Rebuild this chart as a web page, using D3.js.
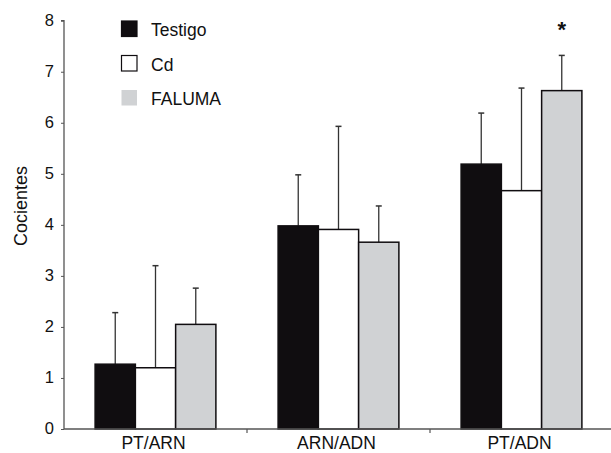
<!DOCTYPE html>
<html><head><meta charset="utf-8">
<script src="https://cdn.jsdelivr.net/npm/d3@7"></script>
<style>body{margin:0;background:#fff}svg{display:block;font-family:"Liberation Sans",Arial,sans-serif}</style>
</head><body>
<svg id="c" width="611" height="453"></svg>
<script>
const categories = ["PT/ARN", "ARN/ADN", "PT/ADN"];
const seriesNames = ["Testigo", "Cd", "FALUMA"];
const testigo = [1.27, 3.98, 5.19];
const cd = [1.20, 3.91, 4.67];
const faluma = [2.05, 3.66, 6.63];
const testigoErr = [2.28, 4.98, 6.19];
const cdErr = [3.20, 5.93, 6.68];
const falumaErr = [2.76, 4.37, 7.32];
const yTicks = [0, 1, 2, 3, 4, 5, 6, 7, 8];
const significance = ["", "", "*"];

(function () {
const values = [testigo, cd, faluma];
const errTops = [testigoErr, cdErr, falumaErr];
const fills = ["#100d10", "#ffffff", "#d0d2d4"];
const FONT = "Liberation Sans, Arial, sans-serif";

const svg = d3.select("#c");
const mLeft = 64, mRight = 611, mTop = 20.7, mBottom = 429;
const y = d3.scaleLinear().domain([0, 8]).range([mBottom, mTop]);
const x = d3.scaleBand().domain(categories).range([mLeft, mLeft + 3 * 183]).paddingInner(0.34).paddingOuter(0.17);
const xs = d3.scaleBand().domain(seriesNames).range([0, x.bandwidth()]);

seriesNames.forEach((s, si) => {
  const g = svg.append("g");
  categories.forEach((c, ci) => {
    const bx = x(c) + xs(s);
    const cx = bx + xs.bandwidth() / 2;
    const v = values[si][ci];
    const e = errTops[si][ci];
    g.append("line").attr("x1", cx).attr("x2", cx)
      .attr("y1", y(v)).attr("y2", y(e)).attr("stroke", "#333").attr("stroke-width", 1.3);
    g.append("line").attr("x1", cx - 3).attr("x2", cx + 3)
      .attr("y1", y(e)).attr("y2", y(e)).attr("stroke", "#333").attr("stroke-width", 1.5);
    g.append("rect").attr("x", bx).attr("y", y(v)).attr("width", xs.bandwidth()).attr("height", y(0) - y(v))
      .attr("fill", fills[si]).attr("stroke", "#100d10").attr("stroke-width", 1.5);
  });
});

categories.forEach((c, ci) => {
  if (significance[ci]) {
    svg.append("text").attr("x", x(c) + xs("FALUMA") + xs.bandwidth() / 2).attr("y", 37)
      .attr("text-anchor", "middle").attr("font-size", 22).attr("font-weight", "bold").attr("fill", "#111")
      .text(significance[ci]);
  }
});

const yAxis = d3.axisLeft(y).tickValues(yTicks).tickSize(3).tickPadding(7).tickFormat(d3.format("d"));
const ga = svg.append("g").attr("transform", `translate(${mLeft},0)`).call(yAxis);
ga.select(".domain").attr("stroke", "#555").attr("stroke-width", 1.3).attr("d", `M-3,${mTop}H0V${mBottom}`);
ga.selectAll(".tick line").attr("stroke", "#555");
ga.selectAll("text").attr("font-size", 16.5).attr("fill", "#111").attr("font-family", FONT).attr("dy", "0.3em");

const boundaries = [1, 2].map(i => mLeft + i * 183);
svg.append("line").attr("x1", mLeft).attr("x2", mRight).attr("y1", mBottom).attr("y2", mBottom)
  .attr("stroke", "#555").attr("stroke-width", 1.3);
boundaries.forEach(b => svg.append("line").attr("x1", b).attr("x2", b).attr("y1", mBottom).attr("y2", mBottom + 4)
  .attr("stroke", "#555").attr("stroke-width", 1.2));
categories.forEach(c => svg.append("text").attr("x", x(c) + x.bandwidth() / 2 - 2).attr("y", 449)
  .attr("text-anchor", "middle").attr("font-size", 17.5).attr("fill", "#111").text(c));

svg.append("text").attr("transform", "translate(27,206) rotate(-90)").attr("text-anchor", "middle")
  .attr("font-size", 18).attr("fill", "#111").text("Cocientes");

seriesNames.forEach((s, i) => {
  const ly = 21 + i * 34.5;
  svg.append("rect").attr("x", 121.5).attr("y", ly).attr("width", 15.5).attr("height", 15.5)
    .attr("fill", fills[i]).attr("stroke", i === 2 ? "none" : "#100d10").attr("stroke-width", 1.2);
  svg.append("text").attr("x", 151).attr("y", ly + 15).attr("font-size", 17.5).attr("fill", "#111").text(s);
});
})();
</script>
</body></html>
